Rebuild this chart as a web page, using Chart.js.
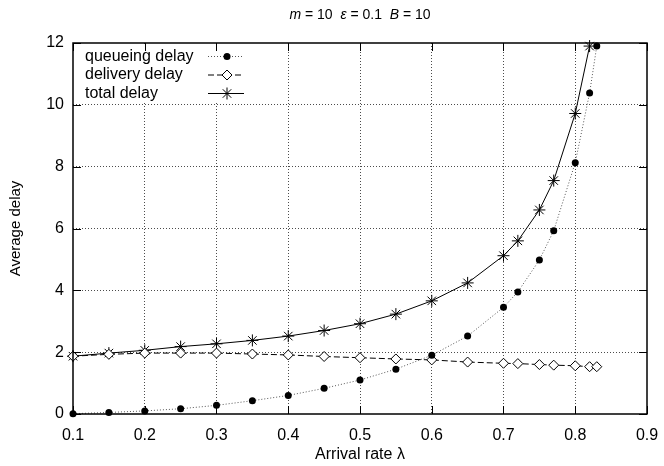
<!DOCTYPE html>
<html>
<head>
<meta charset="utf-8">
<script src="https://cdn.jsdelivr.net/npm/chart.js@4"></script>
<style>
  html, body { margin: 0; padding: 0; background: #fff; }
  #wrap { width: 664px; height: 466px; position: relative; }
</style>
</head>
<body>
<div id="wrap"><canvas id="c" width="664" height="466"></canvas></div>
<script>
// ---- data ----
const arrivalRates = [0.1, 0.15, 0.2, 0.25, 0.3, 0.35, 0.4, 0.45, 0.5, 0.55, 0.6, 0.65, 0.7, 0.72, 0.75, 0.77, 0.8, 0.82, 0.83];
const queueingDelay = [0.01, 0.05, 0.1, 0.17, 0.28, 0.43, 0.6, 0.83, 1.1, 1.45, 1.9, 2.52, 3.45, 3.95, 4.98, 5.93, 8.13, 10.38, 11.9];
const deliveryDelay = [1.87, 1.93, 1.97, 1.97, 1.97, 1.94, 1.91, 1.86, 1.82, 1.78, 1.75, 1.68, 1.64, 1.63, 1.6, 1.58, 1.56, 1.53, 1.53];
const totalDelay = [1.87, 1.97, 2.06, 2.18, 2.27, 2.38, 2.52, 2.7, 2.92, 3.23, 3.66, 4.24, 5.12, 5.6, 6.6, 7.55, 9.72, 11.9, null];
const seriesNames = ['queueing delay', 'delivery delay', 'total delay'];
const titleParts = [['m', true], [' = 10  ', false], ['\u03b5', true], [' = 0.1  ', false], ['B', true], [' = 10', false]];
const xAxisTitle = 'Arrival rate \u03bb';
const yAxisTitle = 'Average delay';

const FONT = '"Liberation Sans", Arial, Helvetica, sans-serif';

function pts(xs, ys) { return xs.map((x, i) => ({ x: x, y: ys[i] })); }

function drawMarker(ctx, style, x, y) {
  ctx.save();
  ctx.setLineDash([]);
  ctx.strokeStyle = '#000';
  ctx.lineWidth = 1;
  if (style === 'circle') {
    ctx.fillStyle = '#000';
    ctx.beginPath(); ctx.arc(x, y, 3.5, 0, Math.PI * 2); ctx.fill();
  } else if (style === 'rectRot') {
    const r = 5;
    ctx.fillStyle = '#fff';
    ctx.beginPath();
    ctx.moveTo(x, y - r); ctx.lineTo(x + r, y); ctx.lineTo(x, y + r); ctx.lineTo(x - r, y); ctx.closePath();
    ctx.fill(); ctx.stroke();
  } else if (style === 'star') {
    const r = 6, d = r * Math.SQRT1_2;
    ctx.beginPath();
    ctx.moveTo(x - r, y); ctx.lineTo(x + r, y);
    ctx.moveTo(x, y - r); ctx.lineTo(x, y + r);
    ctx.moveTo(x - d, y - d); ctx.lineTo(x + d, y + d);
    ctx.moveTo(x - d, y + d); ctx.lineTo(x + d, y - d);
    ctx.stroke();
  }
  ctx.restore();
}

const legendBox = { x2: 250, y2: 101 };

const framePlugin = {
  id: 'frame',
  beforeDatasetsDraw(chart) {
    const ctx = chart.ctx, a = chart.chartArea;
    ctx.save();
    ctx.fillStyle = '#fff';
    ctx.fillRect(a.left + 1, a.top + 1, legendBox.x2 - a.left, legendBox.y2 - a.top);
    ctx.restore();
  },
  afterDatasetsDraw(chart) {
    const ctx = chart.ctx, a = chart.chartArea;
    const xs = chart.scales.x, ys = chart.scales.y;
    ctx.save();
    ctx.strokeStyle = '#000';
    ctx.lineWidth = 1;
    ctx.setLineDash([]);
    ctx.beginPath();
    xs.ticks.forEach(t => {
      const px = Math.round(xs.getPixelForValue(t.value)) + 0.5;
      ctx.moveTo(px, a.bottom); ctx.lineTo(px, a.bottom - 8);
      ctx.moveTo(px, a.top); ctx.lineTo(px, a.top + 8);
    });
    ys.ticks.forEach(t => {
      const py = Math.round(ys.getPixelForValue(t.value)) + 0.5;
      ctx.moveTo(a.left, py); ctx.lineTo(a.left + 8, py);
      ctx.moveTo(a.right, py); ctx.lineTo(a.right - 8, py);
    });
    ctx.stroke();
    ctx.lineWidth = 1.5;
    ctx.strokeRect(a.left, a.top, a.right - a.left, a.bottom - a.top);

    ctx.font = '16px ' + FONT;
    ctx.fillStyle = '#000';
    ctx.textBaseline = 'middle';
    ctx.textAlign = 'left';
    const rows = [56.5, 75, 93.5];
    chart.data.datasets.forEach((ds, i) => {
      const y = rows[i];
      ctx.fillText(ds.label, 85, y);
      ctx.save();
      ctx.strokeStyle = ds.borderColor;
      ctx.lineWidth = ds.borderWidth;
      ctx.setLineDash(ds.borderDash || []);
      ctx.beginPath(); ctx.moveTo(208, y); ctx.lineTo(244, y); ctx.stroke();
      ctx.restore();
      drawMarker(ctx, ds.pointStyle, 227, y);
    });

    ctx.textBaseline = 'middle';
    ctx.textAlign = 'left';
    let total = 0;
    titleParts.forEach(p => {
      ctx.font = (p[1] ? 'italic ' : '') + '14px ' + FONT;
      total += ctx.measureText(p[0]).width;
    });
    let x = (a.left + a.right) / 2 - total / 2;
    titleParts.forEach(p => {
      ctx.font = (p[1] ? 'italic ' : '') + '14px ' + FONT;
      ctx.fillText(p[0], x, 15);
      x += ctx.measureText(p[0]).width;
    });
    ctx.restore();
  }
};

const gridColor = (ctx) => {
  const n = ctx.chart.scales[ctx.scale.id].ticks.length;
  return (ctx.index === 0 || ctx.index === n - 1) ? 'rgba(0,0,0,0)' : 'rgba(0,0,0,0.7)';
};

new Chart(document.getElementById('c'), {
  type: 'line',
  data: {
    datasets: [
      {
        label: seriesNames[0],
        data: pts(arrivalRates, queueingDelay),
        borderColor: '#555', borderWidth: 1, borderDash: [1, 2],
        pointStyle: 'circle', pointRadius: 3.5, pointBackgroundColor: '#000', pointBorderColor: '#000', pointBorderWidth: 0,
        clip: { left: 8, right: 8, top: 8, bottom: 8 }
      },
      {
        label: seriesNames[1],
        data: pts(arrivalRates, deliveryDelay),
        borderColor: '#000', borderWidth: 1, borderDash: [6, 3],
        pointStyle: 'rectRot', pointRadius: 5, pointBackgroundColor: '#fff', pointBorderColor: '#000', pointBorderWidth: 1,
        clip: { left: 8, right: 8, top: 8, bottom: 8 }
      },
      {
        label: seriesNames[2],
        data: pts(arrivalRates, totalDelay),
        borderColor: '#000', borderWidth: 1, borderDash: [],
        pointStyle: 'star', pointRadius: 6, pointBackgroundColor: '#000', pointBorderColor: '#000', pointBorderWidth: 1,
        clip: { left: 8, right: 8, top: 8, bottom: 8 }
      }
    ]
  },
  options: {
    responsive: false,
    animation: false,
    events: [],
    layout: { padding: { left: 0, right: 17, top: 43, bottom: 0 } },
    plugins: { legend: { display: false }, title: { display: false }, tooltip: { enabled: false } },
    scales: {
      x: {
        type: 'linear', min: 0.1, max: 0.9,
        afterFit(s) { s.height = 52; s.paddingLeft = 0; s.paddingRight = 0; },
        ticks: { stepSize: 0.1, color: '#000', font: { family: FONT, size: 16 }, padding: 12,
                 callback: v => v.toFixed(1) },
        grid: { drawTicks: false, color: gridColor, lineWidth: 1 },
        border: { display: false, dash: [1, 2] },
        title: { display: true, text: xAxisTitle, color: '#000', font: { family: FONT, size: 16 }, padding: { top: 4, bottom: 2 } }
      },
      y: {
        type: 'linear', min: 0, max: 12,
        afterFit(s) { s.width = 73; s.paddingTop = 0; s.paddingBottom = 0; },
        ticks: { stepSize: 2, color: '#000', font: { family: FONT, size: 16 }, padding: 9 },
        grid: { drawTicks: false, color: gridColor, lineWidth: 1 },
        border: { display: false, dash: [1, 2] },
        title: { display: true, text: yAxisTitle, color: '#000', font: { family: FONT, size: 15 }, padding: { top: 7, bottom: 0 } }
      }
    }
  },
  plugins: [framePlugin]
});
</script>
</body>
</html>
